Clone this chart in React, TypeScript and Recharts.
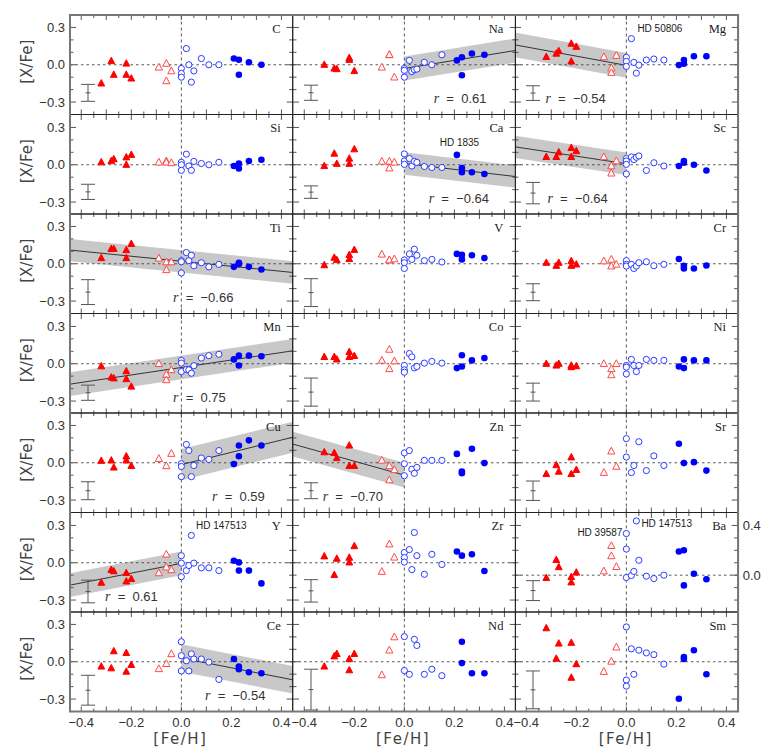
import React from 'react';
import { ComposedChart, Area, Line, Scatter, ErrorBar, XAxis, YAxis, ReferenceLine } from 'recharts';

type Pt = [number, number];
interface Elem { rf: Pt[]; ro: Pt[]; bo: Pt[]; bf: Pt[] }

// rf = thick disk (filled tri), ro = thick/thin transition (open tri), bo = thin open circles, bf = thin filled circles
const C: Elem = {
  rf: [[-0.32, -0.15], [-0.28, 0.03], [-0.27, -0.08], [-0.22, 0.01], [-0.22, -0.08], [-0.2, -0.11]],
  ro: [[-0.09, -0.02], [-0.06, 0.01], [-0.06, -0.13], [-0.04, -0.05]],
  bo: [[0, -0.03], [0, -0.07], [0, -0.1], [0.02, 0.13], [0.03, 0], [0.04, -0.14], [0.05, -0.05], [0.08, 0.05], [0.11, 0], [0.15, 0]],
  bf: [[0.21, 0.05], [0.23, 0.04], [0.23, -0.08], [0.27, 0.02], [0.32, 0]],
};
const Na: Elem = {
  rf: [[-0.32, 0], [-0.28, -0.03], [-0.27, -0.035], [-0.22, 0.04], [-0.22, 0.055], [-0.2, -0.05]],
  ro: [[-0.09, -0.02], [-0.06, 0.08], [-0.06, 0.08], [-0.04, -0.1]],
  bo: [[0, -0.03], [0, -0.045], [0, -0.1], [0.02, 0.035], [0.03, -0.055], [0.04, -0.04], [0.05, -0.035], [0.08, 0.02], [0.11, 0], [0.15, 0.08]],
  bf: [[0.21, 0.035], [0.23, 0.06], [0.23, -0.085], [0.27, 0.09], [0.32, 0.08]],
};
const Mg: Elem = {
  rf: [[-0.32, 0.063], [-0.28, 0.09], [-0.27, 0.11], [-0.22, 0.17], [-0.22, 0.027], [-0.2, 0.145]],
  ro: [[-0.09, 0.063], [-0.06, -0.027], [-0.06, -0.063], [-0.04, 0.074]],
  bo: [[0, 0.06], [0, 0.027], [0, -0.014], [0.02, 0.21], [0.03, 0.019], [0.04, -0.068], [0.05, -0.003], [0.08, 0.038], [0.11, 0.046], [0.15, 0.038]],
  bf: [[0.21, -0.003], [0.23, 0.038], [0.23, 0.008], [0.27, 0.068], [0.32, 0.068]],
};
const Si: Elem = {
  rf: [[-0.32, 0.02], [-0.28, 0.03], [-0.27, 0.045], [-0.22, 0.06], [-0.22, 0], [-0.2, 0.08]],
  ro: [[-0.09, 0.02], [-0.06, 0.03], [-0.06, 0.02], [-0.04, 0.015]],
  bo: [[0, 0.02], [0, 0], [0, -0.045], [0.02, 0.085], [0.03, -0.01], [0.04, -0.045], [0.05, 0.027], [0.08, 0.01], [0.11, 0], [0.15, 0.02]],
  bf: [[0.21, -0.01], [0.23, 0.01], [0.23, -0.03], [0.27, 0.03], [0.32, 0.04]],
};
const Ca: Elem = {
  rf: [[-0.32, -0.01], [-0.28, 0.09], [-0.27, 0.008], [-0.22, 0.05], [-0.22, 0.008], [-0.2, 0.125]],
  ro: [[-0.09, 0.027], [-0.06, 0.027], [-0.06, -0.027], [-0.04, 0.02]],
  bo: [[0, 0.087], [0, 0.03], [0, 0.003], [0.02, 0.05], [0.03, -0.01], [0.04, 0.027], [0.05, 0.019], [0.08, -0.014], [0.11, -0.022], [0.15, -0.022]],
  bf: [[0.21, 0.079], [0.23, -0.027], [0.23, -0.06], [0.27, -0.06], [0.32, -0.074]],
};
const Sc: Elem = {
  rf: [[-0.32, 0.063], [-0.28, 0.063], [-0.27, 0.1], [-0.22, 0.136], [-0.22, 0.063], [-0.2, 0.11]],
  ro: [[-0.09, 0.063], [-0.06, -0.01], [-0.06, -0.068], [-0.04, 0.03]],
  bo: [[0, 0.05], [0, 0.03], [0, 0.003], [0, -0.074], [0.02, 0.063], [0.03, 0.041], [0.04, 0.06], [0.05, 0.071], [0.08, -0.046], [0.11, 0.016], [0.15, -0.01]],
  bf: [[0.21, -0.01], [0.23, 0.03], [0.23, 0.016], [0.27, 0], [0.32, -0.046]],
};
const Ti: Elem = {
  rf: [[-0.32, 0.046], [-0.28, 0.12], [-0.27, 0.12], [-0.22, 0.11], [-0.22, 0.046], [-0.2, 0.16]],
  ro: [[-0.09, 0.044], [-0.06, 0.014], [-0.06, -0.049], [-0.04, 0.014]],
  bo: [[0, 0.025], [0, 0.016], [0, -0.074], [0.02, 0.09], [0.03, 0.025], [0.04, 0.068], [0.05, -0.016], [0.08, 0.008], [0.11, -0.025], [0.15, -0.005]],
  bf: [[0.21, -0.025], [0.23, -0.003], [0.23, 0.008], [0.27, -0.025], [0.32, -0.046]],
};
const V: Elem = {
  rf: [[-0.32, -0.011], [-0.28, 0.049], [-0.27, 0.03], [-0.22, 0.071], [-0.22, 0.038], [-0.2, 0.112]],
  ro: [[-0.09, 0.076], [-0.06, 0.03], [-0.06, 0.03], [-0.04, 0.038]],
  bo: [[0, 0.03], [0, 0.008], [0, -0.038], [0.02, 0.079], [0.03, 0.035], [0.04, 0.117], [0.05, 0.068], [0.08, 0.025], [0.11, 0.035], [0.15, 0.014]],
  bf: [[0.21, 0.079], [0.23, 0.071], [0.23, 0.035], [0.27, 0.068], [0.32, 0.046]],
};
const Cr: Elem = {
  rf: [[-0.32, 0.008], [-0.28, -0.016], [-0.27, 0.008], [-0.22, 0.022], [-0.22, -0.016], [-0.2, -0.005]],
  ro: [[-0.09, 0.022], [-0.06, 0.035], [-0.06, -0.019], [-0.04, -0.005]],
  bo: [[0, 0.025], [0, -0.005], [0, -0.019], [0.02, -0.005], [0.03, -0.038], [0.04, -0.019], [0.05, 0.008], [0.08, 0.016], [0.11, -0.016], [0.15, -0.005]],
  bf: [[0.21, 0.038], [0.23, -0.016], [0.23, -0.038], [0.27, -0.038], [0.32, -0.014]],
};
const Mn: Elem = {
  rf: [[-0.32, -0.02], [-0.28, -0.11], [-0.27, -0.117], [-0.22, -0.06], [-0.22, -0.123], [-0.2, -0.183]],
  ro: [[-0.09, 0], [-0.06, -0.087], [-0.06, -0.13], [-0.04, -0.049]],
  bo: [[0, 0.027], [0, 0.005], [0, -0.063], [0.02, -0.046], [0.03, -0.049], [0.04, -0.076], [0.05, -0.016], [0.08, 0.046], [0.11, 0.065], [0.15, 0.076]],
  bf: [[0.21, 0.035], [0.23, 0.065], [0.23, -0.014], [0.27, 0.065], [0.32, 0.06]],
};
const Co: Elem = {
  rf: [[-0.32, 0.055], [-0.28, 0.055], [-0.27, 0.035], [-0.22, 0.095], [-0.22, 0.055], [-0.2, 0.063]],
  ro: [[-0.09, 0.027], [-0.06, 0.115], [-0.06, -0.041], [-0.04, 0.022]],
  bo: [[0, -0.014], [0, -0.049], [0, -0.068], [0.02, 0.082], [0.03, 0.055], [0.04, -0.033], [0.05, -0.022], [0.08, 0.005], [0.11, 0.019], [0.15, 0.005]],
  bf: [[0.21, -0.035], [0.23, -0.022], [0.23, 0.068], [0.27, 0.027], [0.32, 0.046]],
};
const Ni: Elem = {
  rf: [[-0.32, 0], [-0.28, -0.014], [-0.27, 0], [-0.22, -0.027], [-0.22, -0.014], [-0.2, -0.019]],
  ro: [[-0.09, 0], [-0.06, -0.041], [-0.06, -0.09], [-0.04, 0]],
  bo: [[0, -0.014], [0, -0.027], [0, -0.082], [0.02, 0.035], [0.03, -0.014], [0.04, -0.063], [0.05, -0.014], [0.08, 0.035], [0.11, 0.027], [0.15, 0.027]],
  bf: [[0.21, -0.022], [0.23, 0.035], [0.23, -0.035], [0.27, 0.027], [0.32, 0.027]],
};
const Cu: Elem = {
  rf: [[-0.32, 0.016], [-0.28, 0.019], [-0.27, -0.038], [-0.22, 0.052], [-0.22, 0.019], [-0.2, -0.025]],
  ro: [[-0.09, 0.033], [-0.06, -0.025], [-0.04, 0.074]],
  bo: [[0, -0.008], [0, -0.03], [0, -0.112], [0.02, 0.147], [0.03, 0.098], [0.04, -0.112], [0.05, -0.022], [0.08, 0.038], [0.11, 0.027], [0.15, 0.098]],
  bf: [[0.21, -0.011], [0.23, 0.139], [0.23, 0.052], [0.27, 0.18], [0.32, 0.139]],
};
const Zn: Elem = {
  rf: [[-0.32, 0.085], [-0.28, 0.079], [-0.27, 0.038], [-0.22, 0.139], [-0.22, -0.025], [-0.2, -0.025]],
  ro: [[-0.09, 0.019], [-0.06, -0.025], [-0.06, -0.139], [-0.04, -0.057]],
  bo: [[0, 0.079], [0, -0.008], [0, -0.104], [0.02, 0.098], [0.03, -0.052], [0.04, -0.085], [0.05, -0.038], [0.08, 0.019], [0.11, 0.019], [0.15, 0.019]],
  bf: [[0.21, 0.071], [0.23, -0.071], [0.23, -0.085], [0.27, 0.112], [0.32, -0.003]],
};
const Sr: Elem = {
  rf: [[-0.32, -0.09], [-0.28, -0.019], [-0.27, -0.071], [-0.22, 0.044], [-0.22, -0.09], [-0.2, -0.057]],
  ro: [[-0.09, -0.079], [-0.06, 0.093], [-0.04, -0.03]],
  bo: [[0, 0.194], [0, 0.046], [0.02, -0.079], [0.03, -0.022], [0.05, 0.169], [0.08, -0.063], [0.11, 0.055], [0.15, -0.022]],
  bf: [[0.21, 0.153], [0.23, -0.003], [0.27, 0.005], [0.32, -0.063]],
};
const Y: Elem = {
  rf: [[-0.32, -0.16], [-0.28, -0.057], [-0.27, -0.068], [-0.22, -0.082], [-0.22, -0.15], [-0.2, -0.13]],
  ro: [[-0.09, -0.082], [-0.06, 0.068], [-0.06, -0.035], [-0.04, -0.057]],
  bo: [[0, 0.057], [0, -0.003], [0, -0.112], [0.02, -0.063], [0.03, -0.022], [0.04, 0.22], [0.05, -0.003], [0.08, -0.041], [0.11, -0.041], [0.15, -0.063]],
  bf: [[0.21, 0.016], [0.23, 0.003], [0.23, -0.063], [0.27, -0.063], [0.32, -0.166]],
};
const Zr: Elem = {
  rf: [[-0.32, 0.052], [-0.28, -0.098], [-0.27, 0.033], [-0.22, 0.041], [-0.22, 0.003], [-0.2, 0.134]],
  ro: [[-0.09, -0.071], [-0.06, 0.15], [-0.04, 0.044]],
  bo: [[0, 0.082], [0, 0.041], [0, 0.005], [0.02, 0.106], [0.03, -0.055], [0.04, 0.243], [0.05, 0.057], [0.08, -0.093], [0.11, 0.068], [0.15, -0.014]],
  bf: [[0.21, 0.09], [0.23, 0.057], [0.27, 0.068], [0.32, -0.066]],
};
const Ba: Elem = {
  rf: [[-0.32, -0.022], [-0.28, 0.123], [-0.27, 0.065], [-0.22, -0.014], [-0.22, -0.057], [-0.2, 0.022]],
  ro: [[-0.09, 0.033], [-0.06, 0.237], [-0.06, 0.155], [-0.04, 0.068]],
  bo: [[0, 0.335], [0, 0.21], [0, -0.019], [0.02, -0.003], [0.03, 0.03], [0.04, 0.436], [0.05, 0.12], [0.08, -0.008], [0.11, -0.027], [0.15, 0]],
  bf: [[0.21, 0.19], [0.23, 0.2], [0.23, -0.082], [0.27, 0.011], [0.32, -0.033]],
};
const Ce: Elem = {
  rf: [[-0.32, -0.038], [-0.28, -0.052], [-0.27, 0.085], [-0.22, -0.079], [-0.22, 0.071], [-0.2, -0.025]],
  ro: [[-0.09, -0.057], [-0.06, -0.016], [-0.04, 0.063]],
  bo: [[0, 0.161], [0, 0.049], [0, -0.074], [0.02, 0.008], [0.03, -0.074], [0.04, 0.063], [0.05, 0.022], [0.08, 0.022], [0.11, -0.003], [0.15, -0.142]],
  bf: [[0.21, 0.022], [0.23, -0.038], [0.23, -0.06], [0.27, -0.085], [0.32, -0.093]],
};
const Nd: Elem = {
  rf: [[-0.32, -0.038], [-0.28, 0.044], [-0.27, 0.063], [-0.22, 0.022], [-0.22, -0.068], [-0.2, 0.063]],
  ro: [[-0.09, -0.106], [-0.06, 0.093], [-0.04, 0.199]],
  bo: [[0, 0.202], [0, -0.071], [0.02, -0.101], [0.04, 0.18], [0.05, 0.131], [0.08, -0.101], [0.11, -0.06], [0.15, -0.112]],
  bf: [[0.23, 0.161], [0.23, -0.011], [0.27, -0.093], [0.32, -0.093]],
};
const Sm: Elem = {
  rf: [[-0.32, 0.27], [-0.28, 0.025], [-0.27, 0.147], [-0.22, 0.153], [-0.22, -0.128], [-0.2, -0.019]],
  ro: [[-0.09, -0.079], [-0.06, 0.003], [-0.04, 0.117]],
  bo: [[0, 0.28], [0, -0.147], [0, -0.196], [0.02, 0.104], [0.03, -0.101], [0.05, 0.093], [0.08, 0.071], [0.11, 0.057], [0.15, -0.019]],
  bf: [[0.21, -0.297], [0.23, 0.038], [0.23, 0.022], [0.27, 0.093], [0.32, -0.101]],
};

const ELEMS: Record<string, Elem> = { C, Na, Mg, Si, Ca, Sc, Ti, V, Cr, Mn, Co, Ni, Cu, Zn, Sr, Y, Zr, Ba, Ce, Nd, Sm };

const GRID = [
  ['C', 'Na', 'Mg'],
  ['Si', 'Ca', 'Sc'],
  ['Ti', 'V', 'Cr'],
  ['Mn', 'Co', 'Ni'],
  ['Cu', 'Zn', 'Sr'],
  ['Y', 'Zr', 'Ba'],
  ['Ce', 'Nd', 'Sm'],
];

// regression fits: [x0, y0, x1, y1, half width of band]
const BANDS: Record<string, number[]> = {
  Na: [0, -0.03, 0.445, 0.115, 0.097],
  Mg: [-0.445, 0.16, 0, -0.005, 0.1],
  Ca: [0, 0.01, 0.445, -0.095, 0.09],
  Sc: [-0.445, 0.144, 0, 0.008, 0.09],
  Ti: [-0.445, 0.11, 0.445, -0.07, 0.09],
  Mn: [-0.445, -0.164, 0.445, 0.104, 0.095],
  Cu: [0, -0.015, 0.445, 0.205, 0.125],
  Zn: [-0.445, 0.15, 0, -0.1, 0.1],
  Y: [-0.445, -0.18, 0, -0.005, 0.095],
  Ce: [0, 0.03, 0.445, -0.145, 0.11],
};

const R_VALUES: Record<string, string> = {
  Na: '0.61', Mg: '\u22120.54', Ca: '\u22120.64', Sc: '\u22120.64', Ti: '\u22120.66',
  Mn: '0.75', Cu: '0.59', Zn: '\u22120.70', Y: '0.61', Ce: '\u22120.54',
};

// typical error bar: [centre, half length]
const ERRS: Record<string, Pt> = {
  C: [-0.226, 0.068], Na: [-0.225, 0.061], Mg: [-0.228, 0.059],
  Si: [-0.218, 0.061], Ca: [-0.22, 0.05], Sc: [-0.228, 0.086],
  Ti: [-0.228, 0.1], V: [-0.232, 0.112], Cr: [-0.229, 0.068],
  Mn: [-0.233, 0.061], Co: [-0.228, 0.113], Ni: [-0.228, 0.072],
  Cu: [-0.225, 0.072], Zn: [-0.225, 0.064], Sr: [-0.225, 0.078],
  Y: [-0.231, 0.091], Zr: [-0.226, 0.09], Ba: [-0.124, 0.08],
  Ce: [-0.229, 0.12], Nd: [-0.224, 0.164], Sm: [-0.226, 0.152],
};
const ERR_X = -0.373;

const X_TICKS = [-0.4, -0.35, -0.3, -0.25, -0.2, -0.15, -0.1, -0.05, 0, 0.05, 0.1, 0.15, 0.2, 0.25, 0.3, 0.35, 0.4];
const X_LABELS = [-0.4, -0.2, 0, 0.2, 0.4];
const Y_TICKS = [-0.3, -0.2, -0.1, 0, 0.1, 0.2, 0.3];
const Y_LABELS = [-0.3, 0, 0.3];
const BA_TICKS = [-0.2, -0.1, 0, 0.1, 0.2, 0.3, 0.4];
const BA_LABELS = [0, 0.4];

const HD_NOTES = [
  { panel: 'Mg', text: 'HD 50806', dx: 122, dy: 17.3 },
  { panel: 'Ca', text: 'HD 1835', dx: 147, dy: 31 },
  { panel: 'Y', text: 'HD 147513', dx: 126, dy: 16.5 },
  { panel: 'Ba', text: 'HD 39587', dx: 62, dy: 23.2 },
  { panel: 'Ba', text: 'HD 147513', dx: 126, dy: 14.8 },
];
const R_POS: Record<string, number> = {
  Na: 141, Mg: 30, Ca: 136, Sc: 32, Ti: 103, Mn: 103, Cu: 142, Y: 35, Zn: 30, Ce: 135,
};

const X0 = 70;
const Y0 = 15;
const PW = 222.7;
const PH = 99.5;
const M = 40;
const SANS = '"Liberation Sans", Arial, sans-serif';
const SERIF = '"Liberation Serif", "Times New Roman", serif';

const fmt = (v: number) => (v < -1e-9 ? '\u2212' + Math.abs(v).toFixed(1) : Math.abs(v).toFixed(1));
const near = (a: number, list: number[]) => list.some((b) => Math.abs(a - b) < 1e-6);

const triUp = (p: any, fill: string, stroke: string, w: number, up: number, down: number) => {
  const { cx, cy } = p;
  return (
    <path
      d={`M${cx},${cy - up}L${cx + w},${cy + down}L${cx - w},${cy + down}Z`}
      fill={fill}
      stroke={stroke}
      strokeWidth={1}
      strokeLinejoin="miter"
    />
  );
};

const toObj = (pts: Pt[]) => pts.map(([x, y]) => ({ x, y }));

const Panel: React.FC<{ name: string; row: number; col: number }> = ({ name, row, col }) => {
  const el = ELEMS[name];
  const isBa = name === 'Ba';
  const left = X0 + col * PW;
  const top = Y0 + row * PH;
  const bottomRow = row === GRID.length - 1;
  const band = BANDS[name];
  const bandData = band
    ? [
        { x: band[0], mid: band[1], band: [band[1] - band[4], band[1] + band[4]] },
        { x: band[2], mid: band[3], band: [band[3] - band[4], band[3] + band[4]] },
      ]
    : null;
  const err = ERRS[name];
  const yTicks = isBa ? BA_TICKS : Y_TICKS;

  const xTick = (props: any) => {
    const { x, y, payload } = props;
    const v = payload.value;
    const major = Math.abs(v * 10 - Math.round(v * 10)) < 1e-6;
    const len = major ? 5 : 3;
    return (
      <g>
        <line x1={x} x2={x} y1={y} y2={y - len} stroke="#555" strokeWidth={1} />
        <line x1={x} x2={x} y1={y - PH} y2={y - PH + len} stroke="#555" strokeWidth={1} />
        {bottomRow && near(v, X_LABELS) && (
          <text x={x} y={y + 16} textAnchor="middle" fontFamily={SANS} fontSize={13} fill="#333">
            {fmt(v)}
          </text>
        )}
      </g>
    );
  };

  const yTick = (props: any) => {
    const { x, y, payload } = props;
    const v = payload.value;
    const labelled = near(v, isBa ? BA_LABELS : Y_LABELS);
    const len = labelled ? 6 : 3.5;
    return (
      <g>
        <line x1={x} x2={x + len} y1={y} y2={y} stroke="#555" strokeWidth={1} />
        <line x1={x + PW} x2={x + PW - len} y1={y} y2={y} stroke="#555" strokeWidth={1} />
        {col === 0 && labelled && (
          <text x={x - 5} y={y + 4.5} textAnchor="end" fontFamily={SANS} fontSize={13} fill="#333">
            {fmt(v)}
          </text>
        )}
        {isBa && labelled && (
          <text x={x + PW + 5} y={y + 4.5} textAnchor="start" fontFamily={SANS} fontSize={13} fill="#333">
            {fmt(v)}
          </text>
        )}
      </g>
    );
  };

  return (
    <div style={{ position: 'absolute', left: left - M, top: top - M }}>
      <ComposedChart
        width={PW + 2 * M}
        height={PH + 2 * M}
        margin={{ top: M, right: M, bottom: M - 1, left: M - 1 }}
      >
        <XAxis
          type="number"
          dataKey="x"
          domain={[-0.445, 0.445]}
          allowDataOverflow
          ticks={X_TICKS}
          interval={0}
          tick={xTick}
          tickLine={false}
          axisLine={false}
          tickSize={0}
          tickMargin={0}
          height={1}
        />
        <YAxis
          type="number"
          domain={isBa ? [-0.3, 0.5] : [-0.4, 0.4]}
          allowDataOverflow
          ticks={yTicks}
          interval={0}
          tick={yTick}
          tickLine={false}
          axisLine={false}
          tickSize={0}
          tickMargin={0}
          width={1}
        />
        {bandData && (
          <Area
            data={bandData}
            dataKey="band"
            type="linear"
            fill="#c8c8c8"
            fillOpacity={1}
            stroke="none"
            isAnimationActive={false}
          />
        )}
        {bandData && (
          <Line
            data={bandData}
            dataKey="mid"
            type="linear"
            stroke="#333"
            strokeWidth={1}
            dot={false}
            activeDot={false}
            isAnimationActive={false}
          />
        )}
        <ReferenceLine y={0} stroke="#444" strokeWidth={0.9} strokeDasharray="2.5 3" />
        <ReferenceLine x={0} stroke="#444" strokeWidth={0.9} strokeDasharray="3 3" />
        <Scatter
          data={[{ x: ERR_X, y: err[0], e: err[1] }]}
          dataKey="y"
          isAnimationActive={false}
          shape={(p: any) => (
            <line x1={p.cx - 2.5} x2={p.cx + 2.5} y1={p.cy} y2={p.cy} stroke="#555" strokeWidth={1} />
          )}
        >
          <ErrorBar dataKey="e" direction="y" width={7} stroke="#555" strokeWidth={1} />
        </Scatter>
        <Scatter
          data={toObj(el.rf)}
          dataKey="y"
          isAnimationActive={false}
          shape={(p: any) => triUp(p, '#ff0000', '#ff0000', 3.4, 3.8, 2.6)}
        />
        <Scatter
          data={toObj(el.ro)}
          dataKey="y"
          isAnimationActive={false}
          shape={(p: any) => triUp(p, '#ffffff', '#ff4848', 3.6, 4, 2.8)}
        />
        <Scatter
          data={toObj(el.bo)}
          dataKey="y"
          isAnimationActive={false}
          shape={(p: any) => <circle cx={p.cx} cy={p.cy} r={3.1} fill="#ffffff" stroke="#2a3cff" strokeWidth={1} />}
        />
        <Scatter
          data={toObj(el.bf)}
          dataKey="y"
          isAnimationActive={false}
          shape={(p: any) => <circle cx={p.cx} cy={p.cy} r={3.3} fill="#0000ff" />}
        />
      </ComposedChart>
    </div>
  );
};

const App: React.FC = () => {
  const panels: { name: string; row: number; col: number }[] = [];
  GRID.forEach((r, ri) => r.forEach((name, ci) => panels.push({ name, row: ri, col: ci })));
  const pos = (name: string) => panels.find((p) => p.name === name)!;

  return (
    <div style={{ position: 'absolute', left: 0, top: 0, width: 764, height: 750, background: '#fff' }}>
      {panels.map((p) => (
        <Panel key={p.name} {...p} />
      ))}
      <svg
        width={764}
        height={750}
        style={{ position: 'absolute', left: 0, top: 0, pointerEvents: 'none' }}
      >
        {panels.map((p) => {
          const left = X0 + p.col * PW;
          const top = Y0 + p.row * PH;
          return (
            <g key={p.name}>
              <rect x={left} y={top} width={PW} height={PH} fill="none" stroke="#222" strokeWidth={1} />
              <text
                x={left + PW - 12}
                y={top + 17.5}
                textAnchor="end"
                fontFamily={SERIF}
                fontSize={12.5}
                fill="#222"
              >
                {p.name}
              </text>
              {R_VALUES[p.name] && (
                <text
                  x={left + R_POS[p.name]}
                  y={top + 88}
                  fontFamily={SANS}
                  fontSize={13}
                  fill="#333"
                  style={{ whiteSpace: 'pre' }}
                >
                  <tspan fontFamily={SERIF} fontStyle="italic" fontSize={14}>
                    r
                  </tspan>
                  {'  =  ' + R_VALUES[p.name]}
                </text>
              )}
            </g>
          );
        })}
        {HD_NOTES.map((n, i) => {
          const p = pos(n.panel);
          return (
            <text
              key={i}
              x={X0 + p.col * PW + n.dx}
              y={Y0 + p.row * PH + n.dy}
              fontFamily={SANS}
              fontSize={10}
              fill="#222"
            >
              {n.text}
            </text>
          );
        })}
        <rect x={X0} y={Y0} width={PW * 3} height={PH * 7} fill="none" stroke="#777" strokeWidth={2} />
        {GRID.map((_, ri) => {
          const cy = Y0 + ri * PH + PH / 2 - 3;
          return (
            <text
              key={ri}
              x={27}
              y={cy}
              transform={`rotate(-90, 27, ${cy})`}
              textAnchor="middle"
              dominantBaseline="central"
              fontFamily='"DejaVu Sans", sans-serif'
              fontSize={15}
              fill="#444"
            >
              [X/Fe]
            </text>
          );
        })}
        {[0, 1, 2].map((ci) => (
          <text
            key={ci}
            x={X0 + ci * PW + PW / 2 - 1}
            y={744}
            textAnchor="middle"
            fontFamily='"DejaVu Sans", sans-serif'
            fontSize={15}
            letterSpacing={1.5}
            fill="#444"
          >
            [Fe/H]
          </text>
        ))}
      </svg>
    </div>
  );
};

export default App;
